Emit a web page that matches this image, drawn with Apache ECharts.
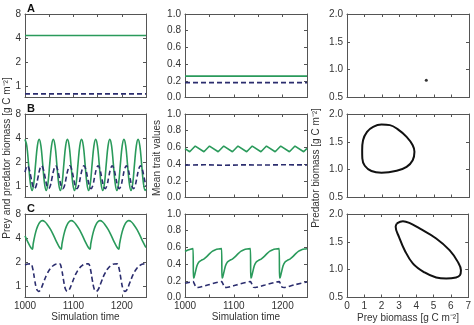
<!DOCTYPE html>
<html><head><meta charset="utf-8">
<script src="https://cdn.jsdelivr.net/npm/echarts@6/dist/echarts.min.js"></script>
<style>html,body{margin:0;padding:0;background:#fff}#c{width:474px;height:325px}</style>
</head><body><div id="c"></div>
<script>
// ---------------- data ----------------
const panelLetters = ['A', 'B', 'C'];
const timeLabels = [1000, 1100, 1200];

// Row A: steady state
const preyA = [[1000, 4.3], [1250, 4.3]];
const predA = [[1000, 0.8], [1250, 0.8]];
const traitPreyA = [[1000, 0.256], [1250, 0.256]];
const traitPredA = [[1000, 0.178], [1250, 0.178]];
const phaseA = [[4.55, 0.81]];

// Row B: regular cycles
const preyB = [
[1000,3.85],[1003.7,3.2],[1007.3,1.9],[1011,1.1],[1014.6,0.88],[1018.3,1.1],[1021.9,1.9],[1025.6,3.2],
[1029.2,3.85],[1032.9,3.2],[1036.5,1.9],[1040.2,1.1],[1043.8,0.88],[1047.5,1.1],[1051.1,1.9],[1054.8,3.2],
[1058.4,3.85],[1062.1,3.2],[1065.7,1.9],[1069.4,1.1],[1073,0.88],[1076.7,1.1],[1080.3,1.9],[1084,3.2],
[1087.6,3.85],[1091.3,3.2],[1094.9,1.9],[1098.6,1.1],[1102.2,0.88],[1105.9,1.1],[1109.5,1.9],[1113.2,3.2],
[1116.8,3.85],[1120.5,3.2],[1124.1,1.9],[1127.8,1.1],[1131.4,0.88],[1135.1,1.1],[1138.7,1.9],[1142.4,3.2],
[1146,3.85],[1149.7,3.2],[1153.3,1.9],[1157,1.1],[1160.6,0.88],[1164.3,1.1],[1167.9,1.9],[1171.6,3.2],
[1175.2,3.85],[1178.9,3.2],[1182.5,1.9],[1186.2,1.1],[1189.8,0.88],[1193.5,1.1],[1197.1,1.9],[1200.8,3.2],
[1204.4,3.85],[1208.1,3.2],[1211.7,1.9],[1215.4,1.1],[1219,0.88],[1222.7,1.1],[1226.3,1.9],[1230,3.2],
[1233.6,3.85],[1237.3,3.2],[1240.9,1.9],[1244.6,1.1],[1248.2,0.88],[1250,0.92]
];
const predB = [
[1000,1.5],
[1005,1.8],[1008.7,1.63],[1012.3,1.29],[1016,1.02],[1019.6,0.93],[1023.3,1.02],[1026.9,1.29],[1030.6,1.63],
[1034.2,1.8],[1037.9,1.63],[1041.5,1.29],[1045.2,1.02],[1048.8,0.93],[1052.5,1.02],[1056.1,1.29],[1059.8,1.63],
[1063.4,1.8],[1067.1,1.63],[1070.7,1.29],[1074.4,1.02],[1078,0.93],[1081.7,1.02],[1085.3,1.29],[1089,1.63],
[1092.6,1.8],[1096.3,1.63],[1099.9,1.29],[1103.6,1.02],[1107.2,0.93],[1110.9,1.02],[1114.5,1.29],[1118.2,1.63],
[1121.8,1.8],[1125.5,1.63],[1129.1,1.29],[1132.8,1.02],[1136.4,0.93],[1140.1,1.02],[1143.7,1.29],[1147.4,1.63],
[1151,1.8],[1154.7,1.63],[1158.3,1.29],[1162,1.02],[1165.6,0.93],[1169.3,1.02],[1172.9,1.29],[1176.6,1.63],
[1180.2,1.8],[1183.9,1.63],[1187.5,1.29],[1191.2,1.02],[1194.8,0.93],[1198.5,1.02],[1202.1,1.29],[1205.8,1.63],
[1209.4,1.8],[1213.1,1.63],[1216.7,1.29],[1220.4,1.02],[1224,0.93],[1227.7,1.02],[1231.3,1.29],[1235,1.63],
[1238.6,1.8],[1242.3,1.63],[1245.9,1.29],[1249.6,1.02],[1250,1.0]
];
const traitPreyB = [[1000,0.585],[1009.6,0.548],[1021,0.616],[1038.8,0.548],[1050.2,0.616],[1068,0.548],[1079.4,0.616],[1097.2,0.548],[1108.6,0.616],[1126.4,0.548],[1137.8,0.616],[1155.6,0.548],[1167,0.616],[1184.8,0.548],[1196.2,0.616],[1214,0.548],[1225.4,0.616],[1243.2,0.548],[1250,0.588]];
const traitPredB = [[1000,0.388],[1040,0.392],[1080,0.386],[1120,0.391],[1160,0.389],[1200,0.392],[1250,0.39]];
const phaseB = [[0.87,1.35],[0.92,1.53],[1.15,1.68],[1.5,1.77],[1.98,1.81],[2.46,1.80],[2.94,1.72],[3.42,1.59],[3.77,1.44],[3.87,1.32],[3.77,1.17],[3.42,1.05],[2.85,0.98],[1.98,0.946],[1.40,0.976],[1.02,1.07],[0.88,1.20],[0.87,1.35]];

// Row C: cycles with trait dynamics
const preyC = [
[1000,4.25],[1005.5,3.6],[1010.5,3.15],
[1015,2.9],[1017,3.4],[1020,4.2],[1024,5.2],[1029,6.1],[1033,6.5],[1036,6.6],[1041,6.4],[1047,5.8],[1053,5.1],[1059.5,4.25],[1065,3.6],[1070,3.15],
[1074.5,2.9],[1076.5,3.4],[1079.5,4.2],[1083.5,5.2],[1088.5,6.1],[1092.5,6.5],[1095.5,6.6],[1100.5,6.4],[1106.5,5.8],[1112.5,5.1],[1119,4.25],[1124.5,3.6],[1129.5,3.15],
[1134,2.9],[1136,3.4],[1139,4.2],[1143,5.2],[1148,6.1],[1152,6.5],[1155,6.6],[1160,6.4],[1166,5.8],[1172,5.1],[1178.5,4.25],[1184,3.6],[1189,3.15],
[1193.5,2.9],[1195.5,3.4],[1198.5,4.2],[1202.5,5.2],[1207.5,6.1],[1211.5,6.5],[1214.5,6.6],[1219.5,6.4],[1225.5,5.8],[1231.5,5.1],[1238,4.25],[1243.5,3.6],[1248.5,3.15],[1250,3.05]
];
const predC = [
[1000,1.84],[1006,1.89],
[1012,1.9],[1016,1.65],[1020,1.2],[1024,0.92],[1028,0.86],[1032,0.9],[1038,1.1],[1045,1.4],[1052,1.65],[1059,1.82],[1065,1.89],
[1071.5,1.9],[1075.5,1.65],[1079.5,1.2],[1083.5,0.92],[1087.5,0.86],[1091.5,0.9],[1097.5,1.1],[1104.5,1.4],[1111.5,1.65],[1118.5,1.82],[1124.5,1.89],
[1131,1.9],[1135,1.65],[1139,1.2],[1143,0.92],[1147,0.86],[1151,0.9],[1157,1.1],[1164,1.4],[1171,1.65],[1178,1.82],[1184,1.89],
[1190.5,1.9],[1194.5,1.65],[1198.5,1.2],[1202.5,0.92],[1206.5,0.86],[1210.5,0.9],[1216.5,1.1],[1223.5,1.4],[1230.5,1.65],[1237.5,1.82],[1243.5,1.89],[1250,1.9]
];
const traitPreyC = [
[1000,0.55],[1006,0.568],[1011,0.578],[1016.5,0.585],
[1017.2,0.235],[1018.5,0.24],[1021.5,0.31],[1024.5,0.38],[1028.5,0.425],[1033.5,0.445],[1038.5,0.46],[1044.5,0.49],[1050.5,0.525],[1056.5,0.555],[1062.5,0.572],[1068.5,0.58],[1075,0.585],
[1075.7,0.235],[1077,0.24],[1080,0.31],[1083,0.38],[1087,0.425],[1092,0.445],[1097,0.46],[1103,0.49],[1109,0.525],[1115,0.555],[1121,0.572],[1127,0.58],[1134,0.585],
[1134.7,0.235],[1136,0.24],[1139,0.31],[1142,0.38],[1146,0.425],[1151,0.445],[1156,0.46],[1162,0.49],[1168,0.525],[1174,0.555],[1180,0.572],[1186,0.58],[1193,0.585],
[1193.7,0.235],[1195,0.24],[1198,0.31],[1201,0.38],[1205,0.425],[1210,0.445],[1215,0.46],[1221,0.49],[1227,0.525],[1233,0.555],[1239,0.572],[1245,0.58],[1250,0.583]
];
const traitPredC = [[1000,0.17],[1016.5,0.19],[1019.5,0.16],[1022.5,0.123],[1026.5,0.12],[1046.5,0.15],[1075,0.19],[1078,0.16],[1081,0.123],[1085,0.12],[1105,0.15],[1134,0.19],[1137,0.16],[1140,0.123],[1144,0.12],[1164,0.15],[1193,0.19],[1196,0.16],[1199,0.123],[1203,0.12],[1223,0.15],[1250,0.186]];
const phaseC = [[2.88,1.83],[3.23,1.87],[3.6,1.84],[4.19,1.74],[5.15,1.56],[5.92,1.35],[6.4,1.14],[6.58,0.99],[6.52,0.9],[6.3,0.86],[5.73,0.84],[5.15,0.86],[4.48,0.95],[3.81,1.11],[3.33,1.35],[3.0,1.59],[2.81,1.77],[2.88,1.83]];

// ---------------- layout & style ----------------
const FONT = 'Liberation Sans, Arial, sans-serif';
const FRAME = '#555';
const GREEN = '#2a9a5b';
const NAVY = '#2b2d6e';
const colLeft = [25, 185, 347];
const colWidth = [121, 122, 122];
const rowTop = [14, 114, 214];
const rowH = 83.5;

const grids = [], xAxes = [], yAxes = [], series = [];

function xAxisCfg(gi, col, row, pos) {
  const isTime = col < 2;
  return {
    type: 'value', gridIndex: gi, position: pos,
    min: isTime ? 1000 : 0, max: isTime ? 1250 : 7, interval: isTime ? 50 : 1,
    axisLine: { show: true, onZero: false, lineStyle: { color: FRAME, width: 1 } },
    axisTick: { show: true, inside: true, length: 3, lineStyle: { color: FRAME } },
    splitLine: { show: false },
    axisLabel: {
      show: pos === 'bottom' && row === 2, margin: 4, fontSize: 10, fontFamily: FONT, color: '#333',
      formatter: isTime ? (v => timeLabels.indexOf(v) >= 0 ? String(v) : '') : (v => String(v))
    }
  };
}
function yAxisCfg(gi, col, pos) {
  const base = {
    gridIndex: gi, position: pos,
    axisLine: { show: true, onZero: false, lineStyle: { color: FRAME, width: 1 } },
    axisTick: { show: true, inside: true, length: 3, lineStyle: { color: FRAME } },
    splitLine: { show: false },
    axisLabel: { show: pos === 'left', margin: 4, fontSize: 10, fontFamily: FONT, color: '#333' }
  };
  if (col === 0) {
    return Object.assign(base, { type: 'log', logBase: 2, min: 0.72, max: 8,
      axisLabel: Object.assign(base.axisLabel, { showMinLabel: false }) });
  } else if (col === 1) {
    return Object.assign(base, { type: 'value', min: 0, max: 1, interval: 0.2,
      axisLabel: Object.assign(base.axisLabel, { formatter: v => v.toFixed(1) }) });
  }
  return Object.assign(base, { type: 'value', min: 0.5, max: 2, interval: 0.5,
    axisLabel: Object.assign(base.axisLabel, { formatter: v => v.toFixed(1) }) });
}

for (let r = 0; r < 3; r++) {
  for (let c = 0; c < 3; c++) {
    const gi = r * 3 + c;
    grids.push({ left: colLeft[c], top: rowTop[r], width: colWidth[c], height: rowH, containLabel: false });
    xAxes.push(xAxisCfg(gi, c, r, 'bottom'));
    xAxes.push(xAxisCfg(gi, c, r, 'top'));
    yAxes.push(yAxisCfg(gi, c, 'left'));
    yAxes.push(yAxisCfg(gi, c, 'right'));
  }
}

function lineS(gi, data, color, dashed, smooth, width) {
  return {
    type: 'line', xAxisIndex: gi * 2, yAxisIndex: gi * 2, data: data,
    showSymbol: false, symbol: 'none', smooth: smooth, animation: false,
    lineStyle: { color: color, width: width || 1.6, type: dashed ? [5, 3] : 'solid' }
  };
}

const rowData = [
  [preyA, predA, traitPreyA, traitPredA, phaseA],
  [preyB, predB, traitPreyB, traitPredB, phaseB],
  [preyC, predC, traitPreyC, traitPredC, phaseC]
];
for (let r = 0; r < 3; r++) {
  const d = rowData[r];
  const g0 = r * 3, g1 = r * 3 + 1, g2 = r * 3 + 2;
  const sm = r === 0 ? false : 0.4;
  series.push(lineS(g0, d[0], GREEN, false, sm));
  series.push(lineS(g0, d[1], NAVY, true, sm));
  series.push(lineS(g1, d[2], GREEN, false, r === 1 ? false : (r === 2 ? 0.2 : false)));
  series.push(lineS(g1, d[3], NAVY, true, r === 2 ? 0.2 : false));
  if (r === 0) {
    series.push({ type: 'scatter', xAxisIndex: g2 * 2, yAxisIndex: g2 * 2, data: d[4],
      symbol: 'circle', symbolSize: 3, itemStyle: { color: '#000' }, animation: false });
  } else {
    series.push(lineS(g2, d[4], '#111', false, 0.4, 2));
  }
}

const graphics = [];
for (let r = 0; r < 3; r++) {
  graphics.push({ type: 'text', left: 27, top: rowTop[r] - 11,
    style: { text: panelLetters[r], font: 'bold 11px ' + FONT, fill: '#111' } });
}
function vText(x, y, text) {
  return { type: 'text', x: x, y: y, rotation: Math.PI / 2,
    style: { text: text, font: '10px ' + FONT, fill: '#333', textAlign: 'center', textVerticalAlign: 'middle' } };
}
function hText(x, y, text) {
  return { type: 'text', x: x, y: y,
    style: { text: text, font: '10px ' + FONT, fill: '#333', textAlign: 'center', textVerticalAlign: 'middle' } };
}
graphics.push(vText(7, 158, 'Prey and predator biomass [g C m\u207B\u00B2]'));
graphics.push(vText(157, 158, 'Mean trait values'));
graphics.push(vText(316, 168, 'Predator biomass [g C m\u207B\u00B2]'));
graphics.push(hText(85.5, 317, 'Simulation time'));
graphics.push(hText(246, 317, 'Simulation time'));
graphics.push(hText(408, 318, 'Prey biomass [g C m\u207B\u00B2]'));

const chart = echarts.init(document.getElementById('c'), null, { renderer: 'canvas' });
chart.setOption({
  animation: false,
  backgroundColor: '#fff',
  grid: grids, xAxis: xAxes, yAxis: yAxes, series: series, graphic: graphics
});
</script>
</body></html>
